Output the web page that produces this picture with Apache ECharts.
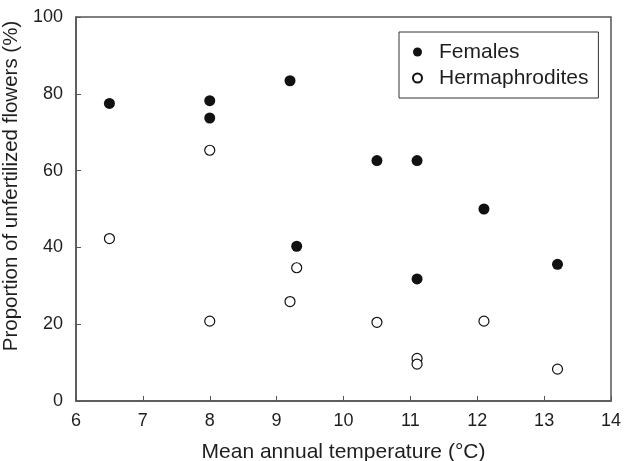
<!DOCTYPE html>
<html>
<head><meta charset="utf-8"></head>
<script type="text/javascript" src="https://cdn.jsdelivr.net/npm/echarts@6/dist/echarts.min.js"></script>
<body style="margin:0;background-color:white;">
    <div id="main" style="width:624px;height:461px;"></div>
</body>
<script>
// temperature (°C) and % unfertilized flowers
var femTemp = [6.5, 8, 8, 9.2, 9.3, 10.5, 11.1, 11.1, 12.1, 13.2]
var femVal = [77.5, 78.2, 73.7, 83.4, 40.3, 62.6, 62.6, 31.8, 50, 35.6]
var herTemp = [6.5, 8, 8, 9.2, 9.3, 10.5, 11.1, 11.1, 12.1, 13.2]
var herVal = [42.3, 65.3, 20.8, 25.9, 34.7, 20.5, 11.1, 9.6, 20.8, 8.3]
var xTicks = [6, 7, 8, 9, 10, 11, 12, 13, 14]
var yTicks = [0, 20, 40, 60, 80, 100]

function pairs(xs, ys) {
    return xs.map(function (x, i) { return [x, ys[i]] })
}

var font = 'Liberation Sans, Arial, sans-serif'
var axisCol = '#555'
var txt = '#1e1e1e'

var myChart = echarts.init(document.getElementById('main'))
var option = {
    animation: false,
    backgroundColor: '#fff',
    grid: {
        left: 76, right: 13, top: 17, bottom: 60,
        outerBoundsMode: 'none',
        show: true, borderColor: axisCol, borderWidth: 1.5, backgroundColor: 'transparent'
    },
    legend: {
        orient: 'vertical',
        left: 399, top: 32,
        padding: [9, 10, 9, 13],
        itemWidth: 9, itemHeight: 9, itemGap: 4,
        borderColor: '#333', borderWidth: 1,
        textStyle: { fontFamily: font, fontSize: 21, lineHeight: 22, color: txt, padding: [0, 0, 0, 12] },
        data: ['Females', 'Hermaphrodites']
    },
    xAxis: {
        type: 'value',
        min: xTicks[0], max: xTicks[xTicks.length - 1], interval: 1,
        name: 'Mean annual temperature (°C)',
        nameLocation: 'middle', nameGap: 41,
        nameTextStyle: { fontFamily: font, fontSize: 21, color: txt },
        axisLine: { show: true, lineStyle: { color: axisCol, width: 1.5 } },
        axisTick: { show: true, inside: true, length: 5, lineStyle: { color: axisCol } },
        axisLabel: { fontFamily: font, fontSize: 18, color: txt, margin: 11 },
        splitLine: { show: false }
    },
    yAxis: {
        type: 'value',
        min: yTicks[0], max: yTicks[yTicks.length - 1], interval: 20,
        name: 'Proportion of unfertilized flowers (%)',
        nameLocation: 'middle', nameGap: 44,
        nameTextStyle: { fontFamily: font, fontSize: 20.5, color: txt, padding: [0, 0, 0, 46] },
        axisLine: { show: true, lineStyle: { color: axisCol, width: 1.5 } },
        axisTick: { show: true, inside: true, length: 5, lineStyle: { color: axisCol } },
        axisLabel: { fontFamily: font, fontSize: 18, color: txt, margin: 13 },
        splitLine: { show: false }
    },
    series: [{
        name: 'Females',
        type: 'scatter',
        symbol: 'circle',
        symbolSize: 11,
        itemStyle: { color: '#111', opacity: 1 },
        data: pairs(femTemp, femVal)
    }, {
        name: 'Hermaphrodites',
        type: 'scatter',
        symbol: 'circle',
        symbolSize: 10,
        itemStyle: { color: '#fff', borderColor: '#111', borderWidth: 1.2, opacity: 1 },
        data: pairs(herTemp, herVal)
    }]
}
option && myChart.setOption(option)
</script>
</html>
